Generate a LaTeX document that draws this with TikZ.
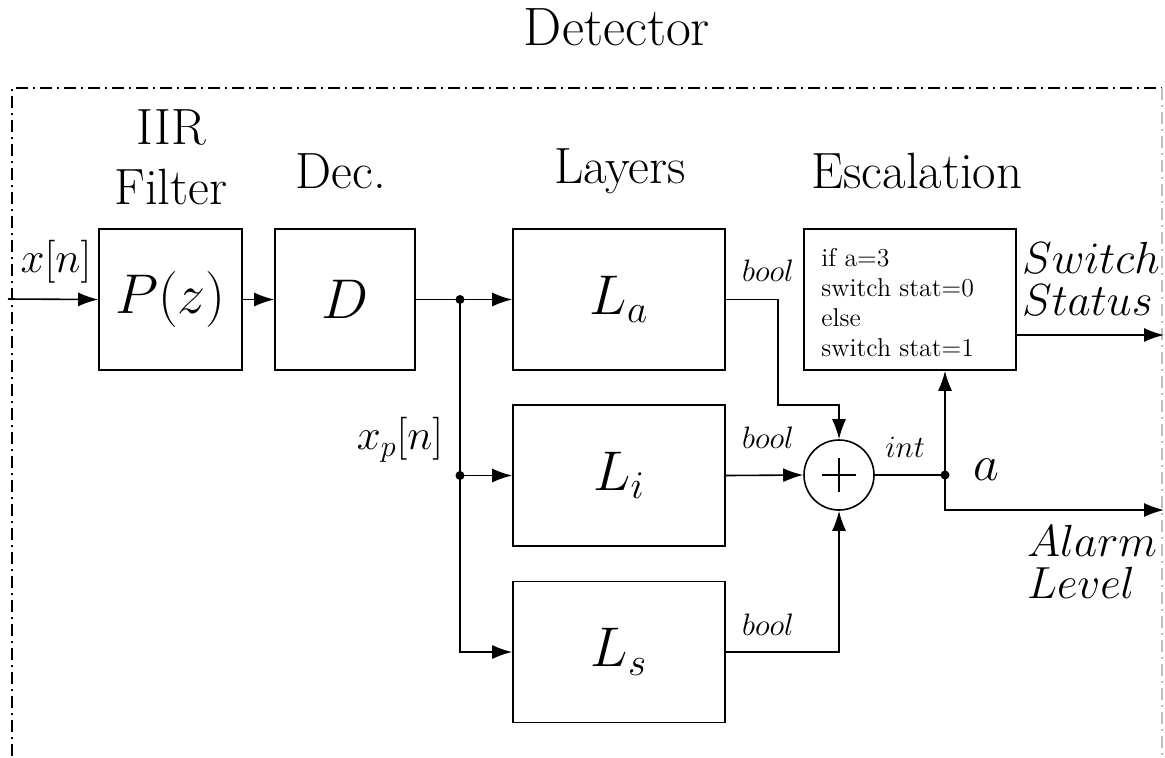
\RequirePackage{fix-cm}
\documentclass[tikz,border=0pt]{standalone}
\usetikzlibrary{arrows.meta,calc}
\tikzset{
  blk/.style={draw,line width=0.8pt,minimum width=#1,minimum height=70.5pt,inner sep=0pt},
  arr/.style={line width=0.8pt,-{Latex[length=10pt,width=7pt]}},
  ln/.style={line width=0.8pt},
  jdot/.style={circle,fill=black,inner sep=0pt,minimum size=4.5pt},
  title/.style={font=\fontsize{25.5}{30}\selectfont},
  big/.style={font=\fontsize{28}{32}\selectfont},
  mid/.style={font=\fontsize{21.5}{22}\selectfont},
  sml/.style={font=\fontsize{15.5}{18}\selectfont},
  border/.style={line width=0.6pt,dash pattern=on 6pt off 2.5pt on 1pt off 2.5pt}
}
\begin{document}
\begin{tikzpicture}[x=0.5pt,y=-0.5pt]
\useasboundingbox (0,0) rectangle (1165,757);
% border
\draw[border] (12,780) -- (12,88) -- (1162,88);
\draw[border,black!25] (1162,88) -- (1162,780);
% titles
\node[font=\fontsize{27}{30}\selectfont] (det) at (617,27) {Detector};
\node[title,align=center] (tiir) at (171,157) {IIR\\Filter};
\node[title] (tdec) at (341,171) {Dec.};
\node[title] (tlay) at (620,171) {Layers};
\node[title] (tesc) at (917,171) {Escalation};
% blocks
\node[blk=71.5pt,big] (P) at (170.5,299.5) {$P(z)$};
\node[blk=70pt,big] (D) at (345,299.5) {$D$};
\node[blk=106pt,big] (La) at (619,299.5) {$L_a$};
\node[blk=106pt,big] (Li) at (619,475.5) {$L_i$};
\node[blk=106pt,big] (Ls) at (619,652) {$L_s$};
\node[blk=106pt] (E) at (910,299.5) {};
\node[anchor=west,align=left,inner sep=0pt,font=\fontsize{12.9}{15}\selectfont] (etext) at (821,303) {if a=3\\switch stat=0\\else\\switch stat=1};
\node[draw,circle,line width=0.8pt,minimum size=35pt,inner sep=0pt] (sum) at (839,475) {};
\draw[line width=0.6pt] ($(sum.center)+(-17,0)$) -- ($(sum.center)+(17,0)$);
\draw[line width=0.6pt] ($(sum.center)+(0,-17)$) -- ($(sum.center)+(0,17)$);
% coordinates
\coordinate (in) at (8,299);
\coordinate (j1) at (460,299.5);
\coordinate (j2) at (460,475.5);
\coordinate (c1) at (778,405);
\coordinate (j4) at (945,475);
\coordinate (o1) at (1164,335);
\coordinate (o2) at (1164,510);
% connectors
\draw[arr] (in) -- (P.west);
\draw[arr] (P.east) -- (D.west);
\draw[ln] (D.east) -- (j1);
\draw[arr] (j1) -- (La.west);
\draw[arr] (j2) -- (Li.west);
\draw[arr] (j1) |- (Ls.west);
\node[jdot] at (j1) {};
\node[jdot] at (j2) {};
\draw[arr] (La.east) -| (c1) -| (sum.north);
\draw[arr] (Li.east) -- (sum.west);
\draw[arr] (Ls.east) -| (sum.south);
\draw[ln] (sum.east) -- (j4);
\draw[arr] (j4) -- (j4 |- E.south);
\draw[arr] (j4) |- (o2);
\node[jdot] at (j4) {};
\draw[arr] (o1 -| E.east) -- (o1);
% labels
\node[mid] (lx) at (56,262) {$x[n]$};
\node[mid] (lxp) at (400,440) {$x_p[n]$};
\node[sml] (b1) at (768,271) {$bool$};
\node[sml] (b2) at (768,438) {$bool$};
\node[sml] (b3) at (768,625) {$bool$};
\node[sml] (lint) at (905,447) {$int$};
\node[font=\fontsize{25}{28}\selectfont] (la) at (986,470) {$a$};
\node[anchor=west,align=left,font=\fontsize{22.5}{21}\selectfont] (lsw) at (1015,279) {$Switch$\\$Status$};
\node[anchor=west,align=left,font=\fontsize{22.5}{21}\selectfont] (lal) at (1020,562) {$Alarm$\\$Level$};
\end{tikzpicture}
\end{document}
